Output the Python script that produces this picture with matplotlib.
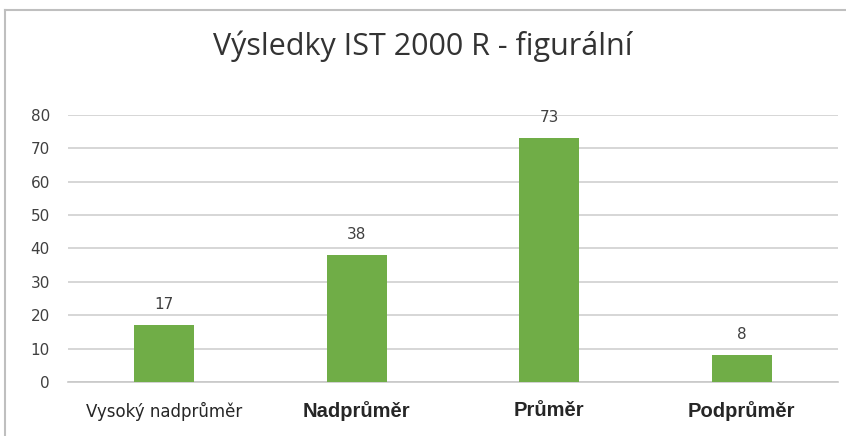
import matplotlib.pyplot as plt
from matplotlib.lines import Line2D

categories = ["Vysoký nadprůměr", "Nadprůměr", "Průměr", "Podprůměr"]
values = [17, 38, 73, 8]
yticks = [0, 10, 20, 30, 40, 50, 60, 70, 80]

fig = plt.figure(figsize=(8.46, 4.36), dpi=100)
ax = fig.add_axes([68 / 846, 1 - 382 / 436, 770 / 846, 267 / 436])

x = list(range(len(categories)))
bars = ax.bar(x, values, width=0.31, color="#70AD47", zorder=3)
for b, v in zip(bars, values):
    ax.text(b.get_x() + b.get_width() / 2, v + 4, str(v), ha="center", va="bottom",
            fontsize=11, color="#404040")

ax.set_xlim(-0.5, 3.5)
ax.set_ylim(0, 80)
ax.set_yticks(yticks)
ax.set_yticklabels([str(t) for t in yticks], fontsize=11, color="#404040")
ax.yaxis.grid(True, color="#D0D0D0", linewidth=1.2, zorder=0)
ax.tick_params(axis="y", length=0, pad=13)
ax.tick_params(axis="x", length=0, pad=14)
ax.set_xticks(x)
ax.set_xticklabels(categories)
for i, lab in enumerate(ax.get_xticklabels()):
    lab.set_color("#262626")
    if i == 0:
        lab.set_fontsize(12)
        lab.set_fontfamily("DejaVu Sans")
    else:
        lab.set_fontsize(14.5)
        lab.set_fontweight("bold")
        lab.set_fontfamily("Liberation Sans")
for s in ["top", "right", "left"]:
    ax.spines[s].set_visible(False)
ax.spines["bottom"].set_color("#C8C8C8")
ax.spines["bottom"].set_linewidth(1.2)

fig.text(0.5, 1 - 46 / 436, "Výsledky IST 2000 R - figurální", ha="center", va="center",
         fontsize=22, color="#333333", family="Open Sans")

fig.add_artist(Line2D([5 / 846, 1], [1 - 10 / 436, 1 - 10 / 436], color="#BFBFBF", lw=1.5,
                      transform=fig.transFigure))
fig.add_artist(Line2D([5 / 846, 5 / 846], [0, 1 - 10 / 436], color="#BFBFBF", lw=1.5,
                      transform=fig.transFigure))

fig.savefig("out.png", dpi=100)
